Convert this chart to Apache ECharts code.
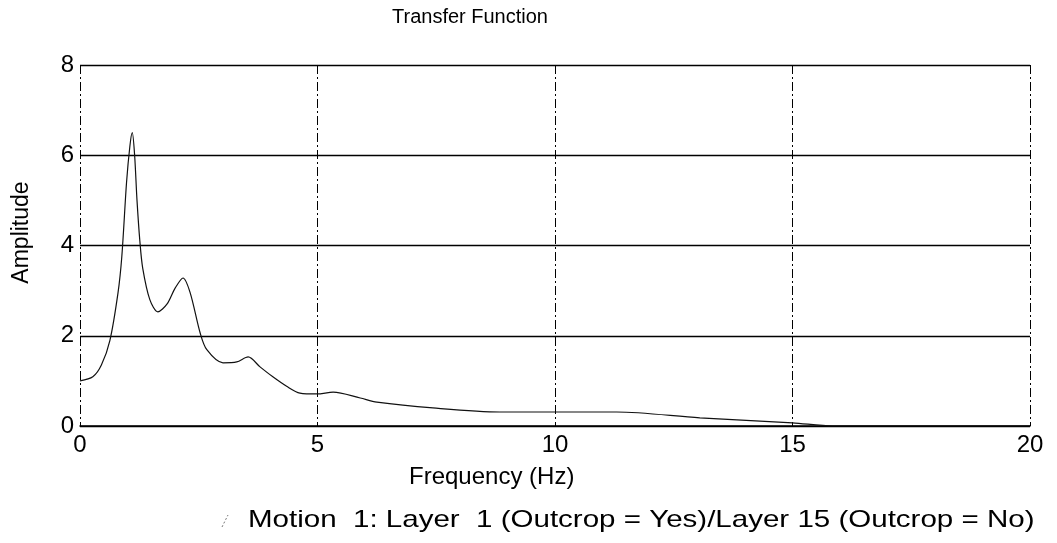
<!DOCTYPE html>
<html>
<head>
<meta charset="utf-8">
<script src="https://cdn.jsdelivr.net/npm/echarts@6/dist/echarts.min.js"></script>
<style>
  html, body { margin: 0; padding: 0; background: #fff; }
  #chart { width: 1057px; height: 543px; }
</style>
</head>
<body>
<div id="chart"></div>
<script>
  // values
  const freq = [0, 0.27, 0.45, 0.63, 0.8, 0.88, 0.98, 1.05, 1.1, 1.15, 1.2, 1.26, 1.32, 1.47, 1.64, 1.83, 2.0, 2.17, 2.32, 2.53, 2.67, 3.01, 3.3, 3.54, 3.79, 4.06, 4.35, 4.63, 4.99, 5.33, 5.9, 6.25, 7.43, 8.84, 9.9, 11.3, 13.05, 15, 15.85, 20]
  const amp = [1.0, 1.09, 1.35, 1.9, 2.95, 3.75, 5.4, 6.2, 6.5, 6.0, 5.0, 4.1, 3.5, 2.8, 2.53, 2.7, 3.05, 3.28, 2.95, 2.06, 1.69, 1.4, 1.42, 1.53, 1.31, 1.09, 0.88, 0.73, 0.71, 0.75, 0.62, 0.53, 0.40, 0.31, 0.31, 0.31, 0.18, 0.07, 0.0, 0.0]
  const seriesName = 'Motion  1: Layer  1 (Outcrop = Yes)/Layer 15 (Outcrop = No)'

  const font = 'Liberation Sans, Arial, sans-serif'
  const chart = echarts.init(document.getElementById('chart'))

  chart.setOption({
    animation: false,
    title: [
      {
        text: 'Transfer Function',
        left: 392,
        top: 7,
        padding: 0,
        textStyle: { fontFamily: font, fontSize: 20, fontWeight: 'normal', color: '#000' }
      },
      {
        text: 'Frequency (Hz)',
        left: 409,
        top: 465,
        padding: 0,
        textStyle: { fontFamily: font, fontSize: 24, fontWeight: 'normal', color: '#000' }
      }
    ],
    // legend line of the original is printed wide, so it is drawn as a stretched text
    graphic: [
      {
        type: 'line',
        shape: { x1: 222, y1: 527, x2: 228, y2: 515 },
        style: { stroke: '#777', lineWidth: 1, lineDash: [2, 2] }
      },
      {
        type: 'text',
        x: 248,
        y: 520,
        scaleX: 1.23,
        style: {
          text: seriesName,
          font: '24px ' + font,
          fill: '#000',
          verticalAlign: 'middle'
        }
      }
    ],
    grid: {
      left: 80,
      right: 27,
      top: 65,
      bottom: 117
    },
    xAxis: {
      type: 'value',
      min: 0,
      max: 20,
      interval: 5,
      axisLine: { show: true, lineStyle: { color: '#000', width: 1.5 } },
      axisTick: { show: false },
      axisLabel: { fontFamily: font, fontSize: 24, color: '#000', margin: 7 },
      splitLine: {
        show: true,
        lineStyle: { color: '#000', width: 1, type: [9, 3, 2, 3] }
      }
    },
    yAxis: {
      type: 'value',
      min: 0,
      max: 8,
      interval: 2,
      name: 'Amplitude',
      nameLocation: 'middle',
      nameGap: 47,
      nameTextStyle: { fontFamily: font, fontSize: 23, color: '#000', padding: [0, 0, 0, 26] },
      axisLine: { show: false },
      axisTick: { show: false },
      axisLabel: { fontFamily: font, fontSize: 24, color: '#000', margin: 6 },
      splitLine: { show: true, lineStyle: { color: '#000', width: 1.3 } }
    },
    series: [
      {
        name: seriesName,
        type: 'line',
        data: freq.map((f, i) => [f, amp[i]]),
        smooth: 0.3,
        showSymbol: false,
        lineStyle: { color: '#111', width: 1.2 }
      }
    ]
  })
</script>
</body>
</html>
